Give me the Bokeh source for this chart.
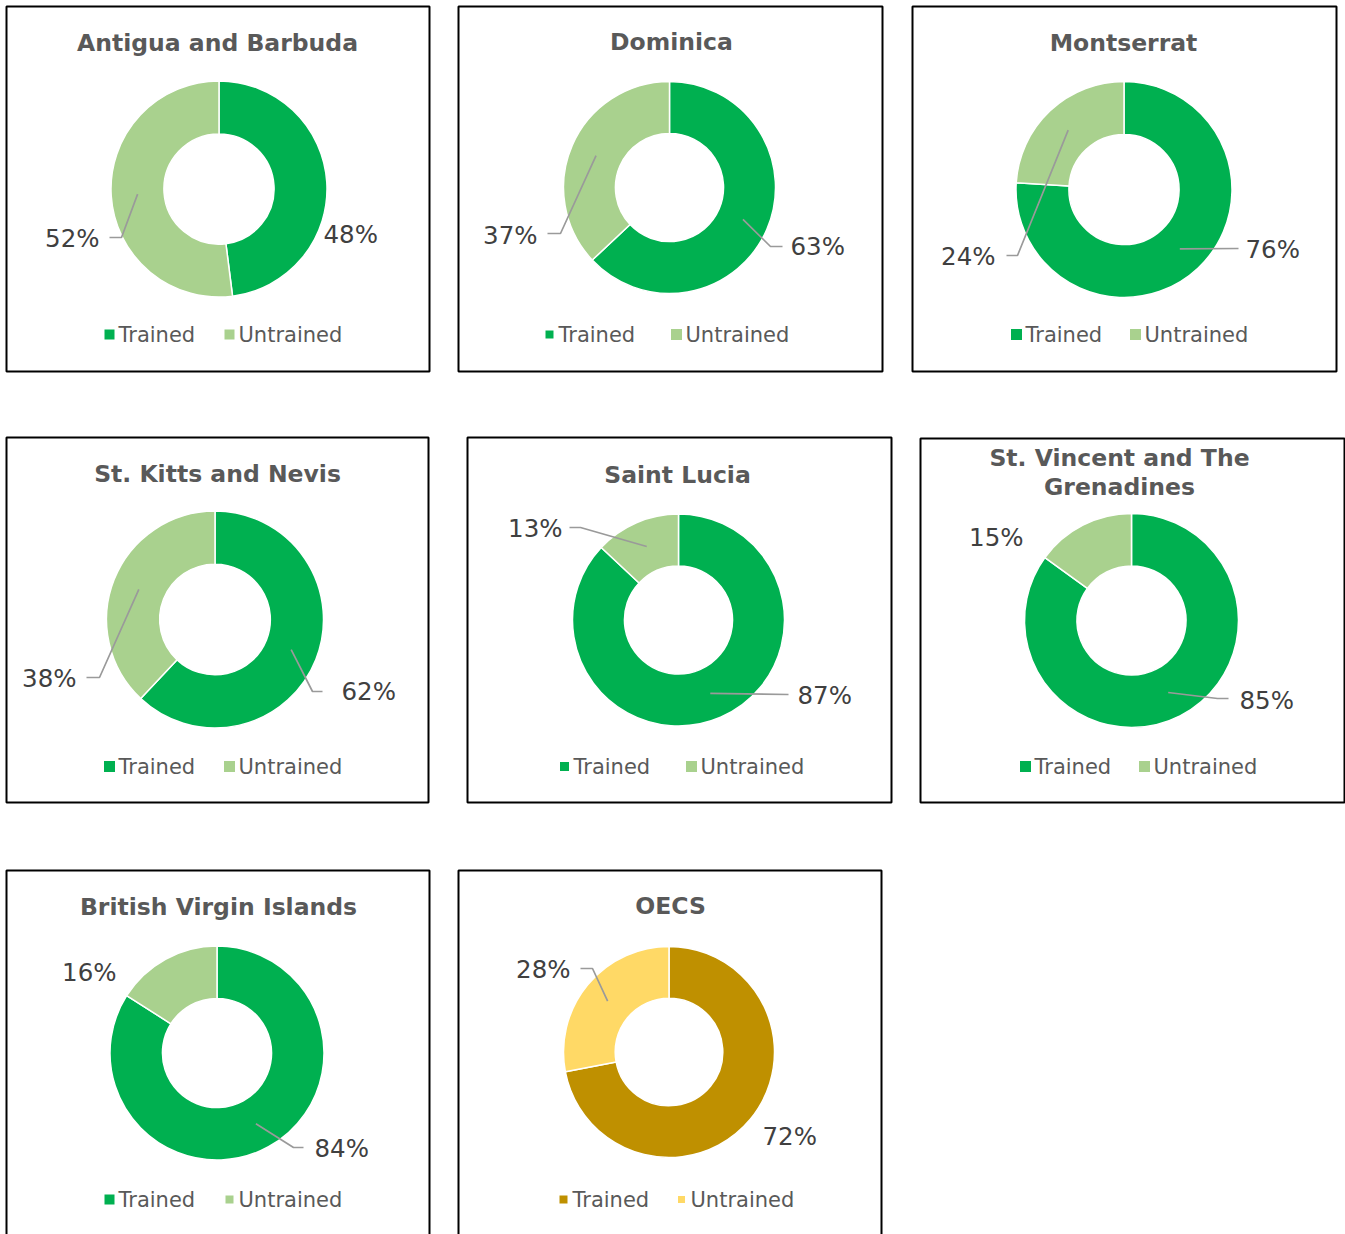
import math
from bokeh.plotting import figure
from bokeh.models import Range1d, ColumnDataSource
from bokeh.embed import file_html
from bokeh.resources import INLINE
from bokeh.core.properties import value

# ---------------- data ----------------
countries = ["Antigua and Barbuda", "Dominica", "Montserrat", "St. Kitts and Nevis",
             "Saint Lucia", "St. Vincent and The Grenadines", "British Virgin Islands", "OECS"]
trained = [48, 63, 76, 62, 87, 85, 84, 72]
untrained = [52, 37, 24, 38, 13, 15, 16, 28]
series = ["Trained", "Untrained"]

GREEN = ["#00B050", "#A9D18E"]
GOLD = ["#BF9000", "#FFD966"]
palettes = [GREEN] * 7 + [GOLD]

# ---------------- layout (reference pixels, y downward) ----------------
boxes = [(6, 429, 6, 371), (458, 882, 6, 371), (912, 1336, 6, 371),
         (6, 428, 437, 802), (467, 891, 437, 802), (920, 1344, 438, 802),
         (6, 429, 870, 1300), (458, 881, 870, 1300)]
centers = [(218.5, 188.5), (669, 187), (1123.5, 189), (214.5, 619), (678, 619.5),
           (1131, 620), (216.5, 1052.5), (668.5, 1051.5)]
outer_r = [108, 106, 108, 108.5, 106, 107, 107, 105.5]
hole = 0.51
title_pos = [(217, 42), (671, 41), (1123, 42), (217, 473), (677, 474), (1119, 472), (218, 906), (670, 905)]
title_wrap = {5: "St. Vincent and The\nGrenadines"}
legend_y = [334, 334, 334, 766, 766, 766, 1199, 1199]
legend_tx = [(118, 238), (558, 685), (1025, 1144), (118, 238), (573, 700), (1034, 1153), (118, 238), (572, 690)]
legend_sq = [(10, 10), (8, 11), (11, 11), (11, 11), (9, 11), (11, 11), (10, 8), (8, 7)]
label_layout = [
    [(323, 234, "left", None, None), (99, 238, "right", (121, 237), (109, 237))],
    [(790, 246, "left", (770, 246), (782, 246)), (537, 235, "right", (560, 233), (547, 233))],
    [(1245, 249, "left", None, (1238, 248)), (995, 256, "right", (1017, 255), (1006, 255))],
    [(341, 691, "left", (312, 691), (322, 691)), (76, 678, "right", (99, 677), (86, 677))],
    [(797, 695, "left", None, (788, 694)), (562, 528, "right", (580, 527), (569, 527))],
    [(1239, 700, "left", (1217, 698), (1228, 698)), (1023, 537, "right", None, None)],
    [(314, 1148, "left", (293, 1147), (303, 1147)), (116, 972, "right", None, None)],
    [(762, 1136, "left", None, None), (570, 969, "right", (592, 968), (580, 968))],
]

FONT = "DejaVu Sans"

p = figure(width=1345, height=1234, x_range=Range1d(0, 1345), y_range=Range1d(-1234, 0),
           output_backend="svg", toolbar_location=None, x_axis_type=None, y_axis_type=None,
           min_border=0)
p.grid.visible = False
p.outline_line_color = None
p.background_fill_color = "white"

# panel borders
p.quad(left=[b[0] for b in boxes], right=[b[1] for b in boxes],
       top=[-b[2] for b in boxes], bottom=[-b[3] for b in boxes],
       fill_color=None, line_color="black", line_width=2)

# donut slices
w = dict(x=[], y=[], r0=[], r1=[], start=[], end=[], color=[])
lead_xs, lead_ys = [], []
lab = dict(x=[], y=[], text=[], align=[])
for i, name in enumerate(countries):
    cx, cy = centers[i]
    ro = outer_r[i]
    ri = ro * hole
    vals = [trained[i], untrained[i]]
    total = sum(vals)
    cum = 0.0
    for j, v in enumerate(vals):
        a0 = cum / total * 360.0           # clockwise from top
        a1 = (cum + v) / total * 360.0
        cum += v
        w["x"].append(cx)
        w["y"].append(-cy)
        w["r0"].append(ri)
        w["r1"].append(ro)
        w["start"].append(math.radians(90 - a1))
        w["end"].append(math.radians(90 - a0))
        w["color"].append(palettes[i][j])
        # label + leader
        lx, ly, al, elbow, end = label_layout[i][j]
        lab["x"].append(lx)
        lab["y"].append(-ly)
        lab["text"].append(f"{v}%")
        lab["align"].append(al)
        if end is not None:
            am = math.radians((a0 + a1) / 2)
            rm = (ri + ro) / 2
            sx = cx + rm * math.sin(am)
            sy = cy - rm * math.cos(am)
            pts = [(sx, sy)] + ([elbow] if elbow else []) + [end]
            lead_xs.append([q[0] for q in pts])
            lead_ys.append([-q[1] for q in pts])

p.annular_wedge(x="x", y="y", inner_radius="r0", outer_radius="r1",
                start_angle="start", end_angle="end", fill_color="color",
                line_color="white", line_width=1.5, source=ColumnDataSource(w))

p.multi_line(xs=lead_xs, ys=lead_ys, line_color="#9A9A9A", line_width=1.7)

lsrc = ColumnDataSource(lab)
p.text(x="x", y="y", text="text", text_align="align", text_baseline="middle",
       text_font=value(FONT), text_font_size="24.5px", text_color="#404040", source=lsrc)

# titles
tsrc = ColumnDataSource(dict(
    x=[t[0] for t in title_pos], y=[-t[1] for t in title_pos],
    text=[title_wrap.get(i, c) for i, c in enumerate(countries)]))
p.text(x="x", y="y", text="text", text_align="center", text_baseline="middle",
       text_font=value(FONT), text_font_style="bold", text_font_size="23.5px",
       text_color="#595959", text_line_height=1.05, source=tsrc)

# legends
leg_sq = dict(x=[], y=[], size=[], color=[])
leg_tx = dict(x=[], y=[], text=[])
for i in range(len(countries)):
    for j, s in enumerate(series):
        tx = legend_tx[i][j]
        leg_sq["x"].append(tx - 9)
        leg_sq["y"].append(-legend_y[i])
        leg_sq["size"].append(legend_sq[i][j])
        leg_sq["color"].append(palettes[i][j])
        leg_tx["x"].append(tx)
        leg_tx["y"].append(-legend_y[i])
        leg_tx["text"].append(s)
p.scatter(x="x", y="y", size="size", marker="square", fill_color="color",
          line_color=None, source=ColumnDataSource(leg_sq))
p.text(x="x", y="y", text="text", text_align="left", text_baseline="middle",
       text_font=value(FONT), text_font_size="21px", text_color="#595959",
       source=ColumnDataSource(leg_tx))

open("out.html", "w").write(file_html(p, INLINE))
